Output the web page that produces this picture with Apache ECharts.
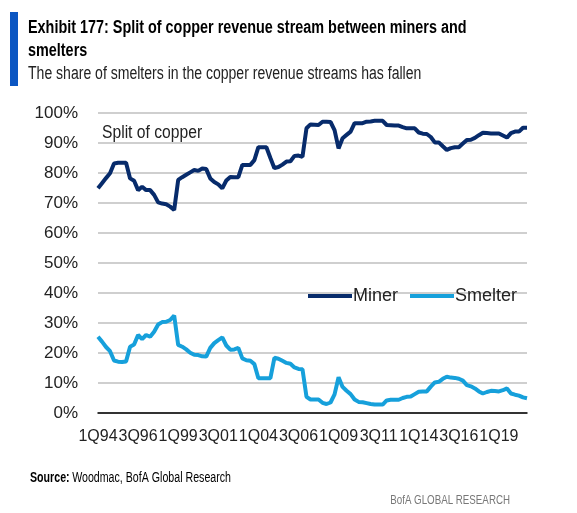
<!DOCTYPE html>
<html>
<head>
<meta charset="utf-8">
<script src="https://cdn.jsdelivr.net/npm/echarts@6/dist/echarts.min.js"></script>
<style>
html,body{margin:0;padding:0;background:#fff;}
#chart{width:577px;height:513px;}
</style>
</head>
<body>
<div id="chart"></div>
<script>
// Quarterly categories 1Q94 .. 4Q20
const startYear = 1994;
const quarterCount = 108;
const categories = [];
for (let i = 0; i < quarterCount; i++) {
  const y = startYear + Math.floor(i / 4);
  categories.push((i % 4 + 1) + 'Q' + String(y).slice(2));
}

const minerShare = [
  74.9, 76.6, 78.3, 79.9, 83.2, 83.4, 83.4, 83.4, 78.2, 77.4,
  74.3, 75.4, 74.3, 74.3, 72.7, 70.2, 69.8, 69.6, 68.8, 67.7,
  77.7, 78.6, 79.4, 80.2, 81.0, 80.7, 81.5, 81.3, 78.2, 77.0,
  76.2, 74.9, 77.5, 78.7, 78.6, 78.6, 82.7, 82.7, 82.7, 84.3,
  88.6, 88.6, 88.6, 85.0, 81.6, 82.0, 82.8, 83.8, 83.9, 85.7,
  85.8, 85.4, 94.9, 96.2, 96.1, 96.0, 97.1, 97.1, 97.0, 94.3,
  88.2, 91.6, 92.7, 93.8, 96.6, 96.6, 96.6, 97.1, 97.2, 97.4,
  97.4, 97.4, 96.0, 95.9, 95.8, 95.8, 95.3, 94.9, 94.9, 94.9,
  93.5, 93.1, 93.0, 92.0, 90.2, 90.2, 88.9, 87.7, 88.3, 88.6,
  88.6, 89.8, 91.0, 91.1, 91.7, 92.6, 93.4, 93.3, 93.2, 93.2,
  93.2, 92.5, 91.8, 93.3, 93.8, 93.8, 95.1, 95.1
];

const smelterShare = [
  25.4, 23.8, 22.0, 20.6, 17.5, 17.1, 17.0, 17.2, 22.1, 22.8,
  26.0, 24.6, 26.0, 25.4, 27.1, 29.5, 30.3, 30.4, 31.0, 32.5,
  22.7, 22.1, 21.2, 20.1, 19.4, 19.3, 18.9, 18.8, 21.7, 23.3,
  24.3, 25.2, 22.5, 21.1, 21.2, 21.7, 18.2, 17.6, 17.4, 16.3,
  11.6, 11.6, 11.6, 11.6, 18.4, 18.1, 17.4, 16.7, 16.4, 15.2,
  14.7, 14.6, 5.4, 4.5, 4.5, 4.5, 3.4, 3.0, 3.5, 6.2,
  11.9, 8.7, 7.4, 6.3, 4.5, 3.7, 3.6, 3.3, 3.0, 2.8,
  2.8, 2.8, 4.2, 4.4, 4.4, 4.4, 5.0, 5.4, 5.5, 6.3,
  7.1, 7.2, 7.2, 8.8, 10.2, 10.4, 11.4, 12.1, 11.8, 11.7,
  11.4, 10.8, 9.3, 8.9, 8.2, 7.2, 6.5, 7.0, 7.4, 7.3,
  7.2, 7.6, 8.2, 6.5, 6.1, 5.8, 5.2, 4.9
];

const seriesNames = ['Miner', 'Smelter'];
const titleLine1 = 'Exhibit 177: Split of copper revenue stream between miners and';
const titleLine2 = 'smelters';
const subtitle = 'The share of smelters in the copper revenue streams has fallen';
const innerLabel = 'Split of copper';

const FONT = '"Liberation Sans", Arial, sans-serif';

const chart = echarts.init(document.getElementById('chart'));
chart.setOption({
  animation: false,
  backgroundColor: '#fff',
  textStyle: { fontFamily: FONT },
  graphic: [
    { type: 'rect', shape: { x: 10, y: 12, width: 8, height: 74 }, style: { fill: '#0b56c2' } },
    { type: 'text', x: 28, y: 28, scaleX: 0.80, style: { text: titleLine1, font: 'bold 18px ' + FONT, fill: '#000', verticalAlign: 'middle' } },
    { type: 'text', x: 28, y: 51, scaleX: 0.80, style: { text: titleLine2, font: 'bold 18px ' + FONT, fill: '#000', verticalAlign: 'middle' } },
    { type: 'text', x: 28, y: 74, scaleX: 0.78, style: { text: subtitle, font: '18px ' + FONT, fill: '#222', verticalAlign: 'middle' } },
    { type: 'text', x: 102, y: 133, scaleX: 0.87, style: { text: innerLabel, font: '18px ' + FONT, fill: '#222', verticalAlign: 'middle' } },
    { type: 'text', x: 30, y: 478, scaleX: 0.76, style: { rich: { b: { fontWeight: 'bold', fontSize: 14, fontFamily: FONT, fill: '#000' }, n: { fontSize: 14, fontFamily: FONT, fill: '#000' } }, text: '{b|Source:} {n|Woodmac, BofA Global Research}', verticalAlign: 'middle' } },
    { type: 'text', x: 510, y: 500, scaleX: 0.75, style: { text: 'BofA GLOBAL RESEARCH', font: '13px ' + FONT, fill: '#777', align: 'right', verticalAlign: 'middle' } }
  ],
  legend: {
    data: seriesNames,
    left: 308,
    top: 287,
    padding: 0,
    icon: 'rect',
    itemWidth: 44,
    itemHeight: 4,
    itemGap: 12,
    textStyle: { fontSize: 18, color: '#222', fontFamily: FONT, padding: [0, 0, 0, -4] }
  },
  grid: { left: 98, right: 50, top: 113, bottom: 100 },
  xAxis: {
    type: 'category',
    data: categories,
    boundaryGap: false,
    axisLine: { lineStyle: { color: '#000', width: 1.5 } },
    axisTick: { show: false },
    axisLabel: { interval: 9, fontSize: 16, color: '#222', margin: 16, fontFamily: FONT, hideOverlap: false, showMinLabel: true },
    splitLine: { show: false }
  },
  yAxis: {
    type: 'value',
    min: 0,
    max: 100,
    interval: 10,
    axisLine: { show: false },
    axisTick: { show: false },
    axisLabel: { formatter: '{value}%', fontSize: 17, color: '#222', margin: 20, fontFamily: FONT },
    splitLine: { lineStyle: { color: '#bfbfbf', width: 1.5 } }
  },
  series: [
    { name: seriesNames[0], type: 'line', data: minerShare, showSymbol: false, lineStyle: { color: '#072b6b', width: 4 }, itemStyle: { color: '#072b6b' } },
    { name: seriesNames[1], type: 'line', data: smelterShare, showSymbol: false, lineStyle: { color: '#16a0db', width: 4 }, itemStyle: { color: '#16a0db' } }
  ]
});
</script>
</body>
</html>
